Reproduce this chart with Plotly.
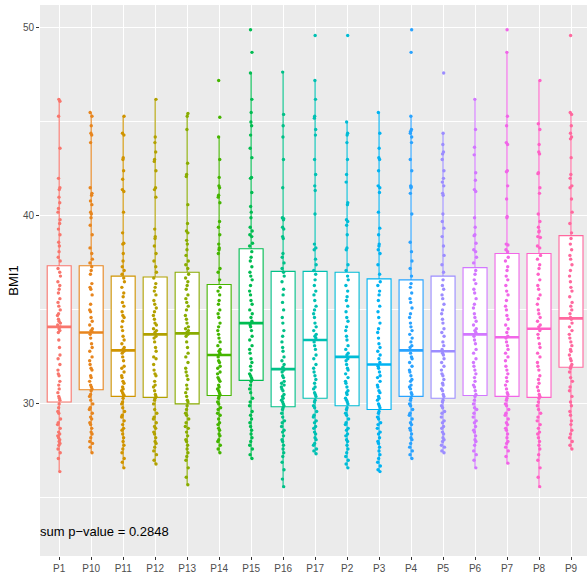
import math
import plotly.graph_objects as go

categories = ["P1", "P10", "P11", "P12", "P13", "P14", "P15", "P16", "P17",
              "P2", "P3", "P4", "P5", "P6", "P7", "P8", "P9"]

# box statistics (BMI1)
lower_whisker = [26.4, 27.4, 26.6, 26.8, 25.7, 27.4, 27.1, 25.6, 27.35,
                 26.6, 26.4, 27.1, 27.4, 26.6, 26.85, 25.6, 27.6]
q1 = [30.1, 30.75, 30.4, 30.35, 30.0, 30.45, 31.25, 29.85, 30.3,
      29.9, 29.7, 30.4, 30.3, 30.45, 30.4, 30.35, 31.95]
median = [34.1, 33.8, 32.85, 33.7, 33.75, 32.6, 34.3, 31.85, 33.4,
          32.5, 32.1, 32.85, 32.8, 33.7, 33.55, 34.0, 34.55]
q3 = [37.35, 37.35, 36.8, 36.75, 37.0, 36.35, 38.25, 37.05, 37.05,
      37.0, 36.65, 36.6, 36.8, 37.25, 38.0, 38.0, 38.95]
upper_whisker = [46.2, 45.5, 45.3, 46.2, 45.45, 44.2, 47.6, 47.65, 47.2,
                 45.0, 45.5, 45.3, 44.4, 46.2, 48.7, 47.2, 45.5]

# individual observations (jittered points)
bmi_p1 = [46.2, 46.1, 45.3, 43.6, 42.0, 41.5, 41.4, 41.0, 40.7, 40.4, 40.2, 39.8, 39.6, 39.3, 39.0, 38.6, 38.4, 38.1, 37.8, 37.6,
          37.2, 37.0, 36.8, 36.5, 36.3, 36.1, 35.9, 35.6, 35.4, 35.2, 35.0, 34.8, 34.7, 34.5, 34.4, 34.3, 34.2, 34.1,
          34.0, 33.9, 33.8, 33.4, 33.0, 32.6, 32.4, 32.1, 31.8, 31.6, 31.5, 31.2, 31.0, 30.8, 30.6, 30.4, 30.3, 30.2,
          30.0, 29.8, 29.6, 29.5, 29.2, 29.0, 28.9, 28.7, 28.5, 28.4, 28.3, 28.2, 28.1, 28.0, 27.9, 27.8, 27.6, 27.4, 27.1, 26.4]
bmi_p10 = [45.5, 45.3, 44.8, 44.4, 44.3, 43.9, 41.5, 41.2, 41.1, 40.8, 40.6, 40.2, 40.1, 39.9, 39.5, 39.0, 38.3, 38.0, 37.7, 37.5,
           37.3, 37.1, 36.9, 36.4, 36.2, 36.1, 35.8, 35.3, 35.0, 34.9, 34.6, 34.4, 34.2, 34.0, 33.9, 33.85,
           33.7, 33.5, 33.2, 33.0, 32.8, 32.5, 32.3, 32.1, 31.9, 31.8, 31.5, 31.4, 31.2, 31.0, 30.9, 30.8,
           30.7, 30.5, 30.4, 30.2, 30.0, 29.8, 29.7, 29.5, 29.3, 29.2, 29.0, 28.9, 28.7, 28.5, 28.4, 28.2, 28.0, 27.9, 27.7, 27.4]
bmi_p11 = [45.3, 44.4, 44.3, 43.1, 43.0, 42.4, 41.95, 41.4, 41.3, 40.2, 39.1, 38.55, 38.5, 38.0, 37.6, 37.3, 37.1, 36.9,
           36.7, 36.5, 36.2, 35.9, 35.7, 35.4, 35.2, 34.9, 34.7, 34.6, 34.4, 34.1, 33.9, 33.6, 33.4, 33.2, 33.0, 32.9,
           32.8, 32.7, 32.5, 32.3, 32.0, 31.9, 31.7, 31.5, 31.4, 31.2, 31.1, 30.9, 30.8, 30.7, 30.6, 30.5, 30.45,
           30.3, 30.1, 30.0, 29.8, 29.6, 29.4, 29.3, 29.1, 28.9, 28.7, 28.6, 28.4, 28.2, 28.0, 27.8, 27.6, 27.4, 27.1, 26.9, 26.6]
bmi_p12 = [46.2, 44.2, 43.9, 43.4, 43.0, 42.9, 42.4, 41.5, 41.4, 41.0, 39.3, 38.9, 38.8, 38.4, 38.0, 37.6, 37.3, 37.0,
           36.7, 36.4, 36.2, 36.0, 35.8, 35.5, 35.3, 35.1, 34.9, 34.7, 34.5, 34.3, 34.2, 34.0, 33.9, 33.8,
           33.6, 33.5, 33.3, 33.0, 32.8, 32.5, 32.4, 32.1, 31.8, 31.6, 31.5, 31.2, 31.0, 30.9, 30.7, 30.5, 30.4,
           30.3, 30.2, 30.0, 29.7, 29.5, 29.3, 29.2, 29.0, 28.8, 28.7, 28.5, 28.4, 28.2, 28.0, 27.9, 27.7, 27.5, 27.3, 27.0, 26.8]
bmi_p13 = [45.45, 45.3, 44.6, 42.8, 42.2, 42.1, 40.6, 39.6, 39.2, 39.1, 38.7, 38.5, 38.2, 37.9, 37.6, 37.4, 37.2,
           36.9, 36.7, 36.5, 36.3, 36.1, 35.8, 35.6, 35.4, 35.2, 35.0, 34.7, 34.5, 34.3, 34.1, 34.0, 33.9, 33.8,
           33.7, 33.6, 33.3, 33.0, 32.7, 32.5, 32.2, 31.9, 31.7, 31.5, 31.3, 31.0, 30.8, 30.6, 30.4, 30.2, 30.1,
           29.9, 29.7, 29.5, 29.4, 29.2, 29.0, 28.8, 28.7, 28.5, 28.3, 28.1, 28.0, 27.8, 27.6, 27.4, 27.2, 27.0, 26.6, 26.1, 25.7]
bmi_p14 = [47.2, 45.25, 44.2, 43.0, 42.05, 41.6, 41.5, 41.1, 41.0, 40.7, 39.7, 39.4, 39.0, 38.5, 38.3, 38.2, 38.0, 37.2, 37.0, 36.6,
           36.2, 36.0, 35.8, 35.5, 35.3, 35.0, 34.8, 34.6, 34.3, 34.1, 33.9, 33.7, 33.5, 33.3, 33.1, 32.9, 32.8, 32.7,
           32.5, 32.3, 32.2, 32.0, 31.9, 31.7, 31.6, 31.4, 31.3, 31.2, 31.0, 30.9, 30.8, 30.7, 30.6, 30.5,
           30.4, 30.3, 30.1, 30.0, 29.8, 29.7, 29.5, 29.4, 29.2, 29.0, 28.9, 28.7, 28.6, 28.4, 28.3, 28.1, 28.0, 27.8, 27.6, 27.4]
bmi_p15 = [49.9, 48.7, 47.6, 46.2, 45.5, 45.0, 44.8, 44.3, 43.6, 43.1, 42.05, 42.0, 41.25, 40.5, 40.2, 39.9, 39.4, 39.2, 39.0, 38.9, 38.55, 38.4,
           38.1, 37.8, 37.6, 37.3, 37.0, 36.8, 36.6, 36.3, 36.0, 35.8, 35.5, 35.3, 35.0, 34.8, 34.6, 34.4,
           34.2, 34.1, 33.9, 33.6, 33.4, 33.1, 32.9, 32.7, 32.4, 32.2, 32.0, 31.8, 31.6, 31.5, 31.4, 31.3,
           31.2, 31.0, 30.8, 30.6, 30.3, 30.1, 29.9, 29.6, 29.4, 29.2, 29.0, 28.8, 28.6, 28.4, 28.2, 28.0, 27.8, 27.6, 27.3, 27.1]
bmi_p16 = [47.65, 45.4, 44.8, 44.2, 43.0, 41.5, 39.9, 39.85, 39.8, 39.4, 39.3, 38.9, 38.8, 38.0, 37.8, 37.5, 37.2,
           37.0, 36.8, 36.5, 36.1, 35.8, 35.4, 35.0, 34.6, 34.3, 33.9, 33.6, 33.3, 33.0, 32.8, 32.5, 32.3, 32.1, 31.95,
           31.8, 31.7, 31.5, 31.4, 31.2, 31.1, 31.0, 30.9, 30.8, 30.7, 30.5, 30.4, 30.3, 30.2, 30.1, 30.0, 29.9,
           29.8, 29.7, 29.5, 29.3, 29.1, 29.0, 28.8, 28.6, 28.5, 28.3, 28.1, 28.0, 27.8, 27.6, 27.4, 27.2, 26.9, 26.5, 26.0, 25.6]
bmi_p17 = [49.6, 47.2, 46.2, 45.3, 45.2, 44.6, 44.3, 43.0, 42.2, 41.6, 41.35, 40.1, 38.5, 38.3, 38.2, 37.7, 37.4, 37.1,
           36.9, 36.6, 36.3, 36.0, 35.8, 35.5, 35.2, 35.0, 34.8, 34.6, 34.3, 34.1, 33.9, 33.7, 33.6, 33.5,
           33.3, 33.1, 32.9, 32.6, 32.4, 32.1, 31.9, 31.7, 31.5, 31.3, 31.1, 30.9, 30.8, 30.6, 30.5, 30.4,
           30.2, 30.1, 29.9, 29.8, 29.6, 29.4, 29.3, 29.1, 29.0, 28.8, 28.7, 28.5, 28.4, 28.2, 28.1, 27.9, 27.8, 27.6, 27.5, 27.35]
bmi_p2 = [49.6, 45.0, 44.4, 44.3, 43.9, 43.0, 42.2, 41.8, 40.7, 40.6, 39.8, 39.7, 39.5, 39.0, 38.3, 38.2, 37.4, 37.1,
          36.8, 36.6, 36.3, 36.0, 35.7, 35.5, 35.2, 34.9, 34.6, 34.4, 34.1, 33.9, 33.6, 33.4, 33.1, 32.9, 32.7, 32.6,
          32.4, 32.3, 32.1, 31.9, 31.8, 31.6, 31.4, 31.2, 31.1, 30.9, 30.7, 30.6, 30.5, 30.3, 30.2, 30.1, 30.0,
          29.8, 29.7, 29.5, 29.4, 29.2, 29.0, 28.9, 28.7, 28.6, 28.4, 28.3, 28.1, 28.0, 27.8, 27.6, 27.4, 27.2, 27.0, 26.8, 26.6]
bmi_p3 = [45.5, 44.4, 43.6, 43.1, 43.0, 42.4, 41.6, 41.5, 41.25, 40.2, 39.35, 39.0, 38.5, 38.4, 38.2, 38.0, 37.4, 36.9,
          36.5, 36.3, 36.0, 35.8, 35.5, 35.2, 34.9, 34.6, 34.3, 34.0, 33.8, 33.5, 33.2, 33.0, 32.8, 32.6, 32.4, 32.2,
          32.0, 31.9, 31.7, 31.5, 31.4, 31.2, 31.0, 30.9, 30.7, 30.6, 30.4, 30.3, 30.2, 30.0, 29.9, 29.8,
          29.6, 29.5, 29.3, 29.2, 29.0, 28.9, 28.7, 28.5, 28.4, 28.2, 28.0, 27.9, 27.7, 27.5, 27.3, 27.1, 26.9, 26.7, 26.5, 26.4]
bmi_p4 = [49.9, 48.7, 45.3, 44.6, 44.5, 44.4, 44.2, 43.9, 43.0, 42.4, 41.6, 41.55, 41.5, 41.2, 40.1, 38.6, 38.1, 37.6, 37.2, 36.8,
          36.4, 36.2, 35.9, 35.6, 35.4, 35.1, 34.8, 34.6, 34.3, 34.1, 33.9, 33.7, 33.5, 33.3, 33.1, 33.0,
          32.7, 32.5, 32.4, 32.2, 32.0, 31.8, 31.7, 31.5, 31.3, 31.2, 31.0, 30.9, 30.8, 30.6, 30.5,
          30.3, 30.2, 30.0, 29.9, 29.7, 29.5, 29.4, 29.2, 29.0, 28.9, 28.7, 28.6, 28.4, 28.2, 28.1, 27.9, 27.7, 27.5, 27.3, 27.1]
bmi_p5 = [47.6, 44.4, 43.8, 43.4, 43.3, 43.0, 42.4, 42.0, 41.8, 41.6, 41.2, 41.1, 40.1, 39.7, 39.35, 38.9, 38.4, 37.9, 37.4, 37.0,
          36.6, 36.3, 36.1, 35.8, 35.6, 35.3, 35.0, 34.8, 34.5, 34.3, 34.0, 33.8, 33.6, 33.3, 33.1, 32.9,
          32.7, 32.6, 32.4, 32.2, 32.0, 31.8, 31.6, 31.5, 31.3, 31.1, 31.0, 30.8, 30.7, 30.5, 30.4,
          30.2, 30.1, 29.9, 29.8, 29.6, 29.5, 29.3, 29.1, 29.0, 28.8, 28.7, 28.5, 28.4, 28.2, 28.1, 28.0, 27.8, 27.7, 27.5, 27.4]
bmi_p6 = [46.2, 44.6, 43.65, 43.25, 42.3, 41.9, 41.4, 41.3, 39.9, 39.4, 39.0, 38.95, 38.55, 38.2, 38.1, 37.8, 37.5,
          37.1, 36.9, 36.6, 36.4, 36.1, 35.9, 35.6, 35.3, 35.1, 34.8, 34.6, 34.4, 34.2, 34.0, 33.9, 33.8,
          33.6, 33.4, 33.2, 32.9, 32.7, 32.4, 32.2, 32.0, 31.8, 31.6, 31.4, 31.2, 31.0, 30.9, 30.7, 30.5,
          30.4, 30.2, 30.0, 29.8, 29.7, 29.5, 29.3, 29.1, 29.0, 28.8, 28.6, 28.5, 28.3, 28.1, 28.0, 27.8, 27.5, 27.3, 27.0, 26.6]
bmi_p7 = [49.9, 48.7, 45.3, 44.8, 43.9, 43.8, 42.4, 42.35, 41.6, 40.9, 39.97, 39.9, 38.5, 38.45, 38.2, 38.1,
          37.8, 37.6, 37.3, 37.1, 36.8, 36.6, 36.3, 36.0, 35.8, 35.5, 35.2, 35.0, 34.7, 34.5, 34.2, 34.0, 33.8, 33.6,
          33.5, 33.3, 33.1, 32.9, 32.7, 32.5, 32.3, 32.0, 31.8, 31.6, 31.4, 31.2, 31.0, 30.8, 30.6, 30.5,
          30.3, 30.2, 30.0, 29.9, 29.7, 29.5, 29.4, 29.2, 29.0, 28.9, 28.7, 28.6, 28.4, 28.2, 28.0, 27.9, 27.7, 27.5, 27.2, 26.85]
bmi_p8 = [47.2, 44.9, 44.6, 43.8, 43.4, 43.3, 42.3, 42.25, 41.5, 41.2, 40.1, 39.7, 39.4, 39.2, 39.15, 38.9, 38.85, 38.4, 38.3,
          37.9, 37.7, 37.4, 37.2, 36.9, 36.6, 36.3, 36.1, 35.8, 35.6, 35.3, 35.0, 34.8, 34.6, 34.4, 34.2, 34.1,
          33.9, 33.7, 33.5, 33.2, 33.0, 32.7, 32.5, 32.2, 32.0, 31.8, 31.5, 31.3, 31.1, 30.9, 30.7, 30.5, 30.4,
          30.3, 30.1, 29.9, 29.7, 29.5, 29.3, 29.1, 28.9, 28.7, 28.5, 28.4, 28.2, 28.0, 27.8, 27.6, 27.3, 27.0, 26.6, 26.1, 25.6]
bmi_p9 = [49.6, 45.5, 45.4, 44.8, 44.4, 44.2, 44.1, 43.1, 42.2, 42.0, 41.6, 41.5, 40.9, 40.2, 39.6, 39.1,
          38.8, 38.5, 38.2, 37.9, 37.7, 37.4, 37.1, 36.8, 36.5, 36.2, 36.0, 35.7, 35.4, 35.2, 35.0, 34.8, 34.6,
          34.5, 34.3, 34.1, 33.9, 33.7, 33.5, 33.3, 33.1, 32.9, 32.8, 32.6, 32.4, 32.3, 32.1, 32.0,
          31.9, 31.7, 31.4, 31.2, 30.9, 30.7, 30.4, 30.1, 29.9, 29.6, 29.4, 29.1, 28.9, 28.6, 28.4, 28.2, 28.0, 27.8, 27.6]

observations = [bmi_p1, bmi_p10, bmi_p11, bmi_p12, bmi_p13, bmi_p14, bmi_p15, bmi_p16, bmi_p17,
                bmi_p2, bmi_p3, bmi_p4, bmi_p5, bmi_p6, bmi_p7, bmi_p8, bmi_p9]

y_ticks = [30, 40, 50]
annotation_text = "sum p\u2212value = 0.2848"
annotation_y = 23.2


def hue_colour(h, c=100.0, l=65.0):
    """ggplot2-style hcl() colour to hex."""
    hr = math.radians(h)
    u, v = c * math.cos(hr), c * math.sin(hr)
    xn, yn, zn = 95.047, 100.0, 108.883
    den = xn + 15 * yn + 3 * zn
    un, vn = 4 * xn / den, 9 * yn / den
    Y = yn * ((l + 16) / 116) ** 3
    up, vp = u / (13 * l) + un, v / (13 * l) + vn
    X = Y * 9 * up / (4 * vp)
    Z = Y * (12 - 3 * up - 20 * vp) / (4 * vp)
    X, Y, Z = X / 100, Y / 100, Z / 100
    rgb = [3.2404542 * X - 1.5371385 * Y - 0.4985314 * Z,
           -0.9692660 * X + 1.8760108 * Y + 0.0415560 * Z,
           0.0556434 * X - 0.2040259 * Y + 1.0572252 * Z]
    out = []
    for ch in rgb:
        ch = 12.92 * ch if ch <= 0.0031308 else 1.055 * ch ** (1 / 2.4) - 0.055
        out.append(int(round(min(max(ch, 0), 1) * 255)))
    return "#%02X%02X%02X" % tuple(out)


n = len(categories)
colours = [hue_colour(15 + i * 360.0 / n) for i in range(n)]

fig = go.Figure()
BOX_W = 0.75

# boxes (white fill, coloured outline, whiskers to extremes)
for i, cat in enumerate(categories):
    fig.add_trace(go.Box(
        x=[cat], q1=[q1[i]], median=[median[i]], q3=[q3[i]],
        lowerfence=[lower_whisker[i]], upperfence=[upper_whisker[i]],
        width=BOX_W, whiskerwidth=0, fillcolor="white",
        line=dict(color=colours[i], width=1.1),
        boxpoints=False, showlegend=False, hoverinfo="skip"))

# thick median bars
for i, cat in enumerate(categories):
    fig.add_trace(go.Box(
        x=[cat], q1=[median[i]], median=[median[i]], q3=[median[i]],
        lowerfence=[median[i]], upperfence=[median[i]],
        width=BOX_W, whiskerwidth=0, fillcolor="rgba(0,0,0,0)",
        line=dict(color=colours[i], width=2.6),
        boxpoints=False, showlegend=False, hoverinfo="skip"))

# jittered observations
for i, cat in enumerate(categories):
    vals = observations[i]
    fig.add_trace(go.Box(
        x=[cat] * len(vals), y=vals, boxpoints="all", jitter=0.16, pointpos=0,
        width=BOX_W, whiskerwidth=0, fillcolor="rgba(0,0,0,0)",
        line=dict(color="rgba(0,0,0,0)", width=0),
        marker=dict(color=colours[i], size=3.4, opacity=1),
        showlegend=False, hoverinfo="y"))

fig.add_annotation(
    x=-0.003, xref="paper", y=annotation_y, yref="y", xanchor="left", yanchor="middle",
    text=annotation_text, showarrow=False,
    font=dict(family="Liberation Sans, Arial, sans-serif", size=13, color="black"))

fig.update_layout(
    width=587, height=581,
    margin=dict(l=40, r=0, t=5, b=25, autoexpand=False),
    paper_bgcolor="white", plot_bgcolor="#EBEBEB",
    boxmode="overlay",
    font=dict(family="Liberation Sans, Arial, sans-serif", color="#4D4D4D"),
    xaxis=dict(
        type="category", categoryorder="array", categoryarray=categories,
        range=[-0.6, 16.5], showgrid=True, gridcolor="white", gridwidth=1.1,
        zeroline=False, showline=False, ticks="outside", ticklen=3, automargin=False,
        tickcolor="#333333", tickwidth=1, tickfont=dict(size=10, color="#4D4D4D")),
    yaxis=dict(
        range=[21.91, 51.22], tickvals=y_ticks, showgrid=True, gridcolor="white",
        gridwidth=1.1, zeroline=False, showline=False, ticks="outside", ticklen=3,
        automargin=False,
        tickcolor="#333333", tickwidth=1, tickfont=dict(size=10, color="#4D4D4D"),
        minor=dict(dtick=5, tick0=0, showgrid=True, gridcolor="white", gridwidth=0.55),
        title=dict(text="BMI1", standoff=1, font=dict(size=13, color="black"))),
)

fig.write_html("out.html", config={"displayModeBar": False},
               post_script="document.body.style.margin='0';document.body.style.padding='0';")
